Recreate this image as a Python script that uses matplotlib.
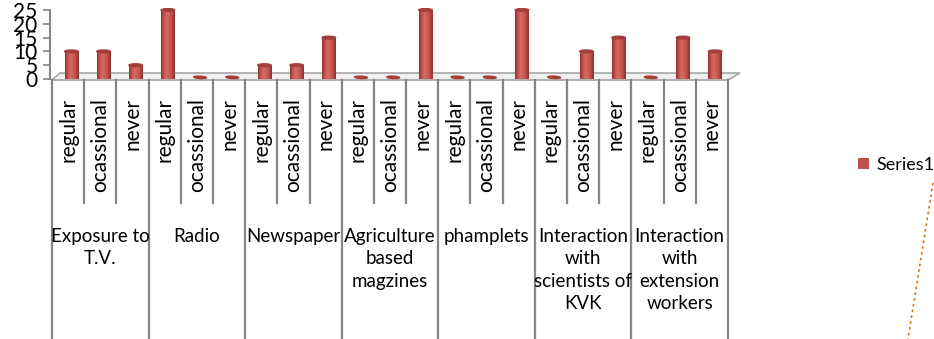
import numpy as np
import matplotlib.pyplot as plt
import matplotlib.transforms as mtransforms
from matplotlib.colors import LinearSegmentedColormap
from matplotlib.patches import Ellipse, Polygon, Patch
from matplotlib.lines import Line2D

plt.rcParams['font.family'] = ['Lato', 'DejaVu Sans']

groups = ['Exposure to\nT.V.', 'Radio', 'Newspaper', 'Agriculture\nbased\nmagzines',
          'phamplets', 'Interaction\nwith\nscientists of\nKVK',
          'Interaction\nwith\nextension\nworkers']
levels = ['regular', 'ocassional', 'never']
series1 = [10, 10, 5,
           25, 0, 0,
           5, 5, 15,
           0, 0, 25,
           0, 0, 25,
           0, 10, 15,
           0, 15, 10]

W, H = 934, 339
fig = plt.figure(figsize=(W / 100, H / 100), dpi=100)


def fx(x):
    return x / W


def fy(y):
    return 1 - y / H


n = len(series1)
slot = 676 / n
ax = fig.add_axes([fx(50), fy(79), fx(680), 69 / H])
xlim = (-2 / slot, n + 2 / slot)
ylim = (0, 25)

grey = '#868686'

# floor of the 3d chart, kept under the axes
floor = Polygon([(fx(52), fy(80)), (fx(60), fy(73)), (fx(740), fy(73)), (fx(728), fy(80))],
                closed=True, transform=fig.transFigure, facecolor='#efefef',
                edgecolor='#a6a6a6', lw=1.2, zorder=-1)
fig.patches.append(floor)

# cylinder-ish shading for the columns
cyl = LinearSegmentedColormap.from_list('cyl', ['#8f3331', '#c4524f', '#d46a66', '#cc5d59', '#b94a47', '#8a302e'])
grad = np.linspace(0, 1, 64).reshape(1, -1)

xpos = np.arange(n) + 0.6
bars = ax.bar(xpos, series1, width=0.42, color='#C0504D', zorder=3)
for b, v in zip(bars, series1):
    x0 = b.get_x()
    w = b.get_width()
    if v > 0:
        im = ax.imshow(grad, extent=[x0, x0 + w, 0, v], aspect='auto', cmap=cyl, zorder=3)
        im.set_clip_path(b)
        ax.add_patch(Ellipse((x0 + w / 2, v), w, 1.0, color='#a33e3b', zorder=4, clip_on=False))
    else:
        ax.add_patch(Ellipse((x0 + w / 2, 0.6), w * 0.9, 0.9, angle=8, color='#a33e3b',
                             zorder=4, clip_on=False))

ax.set_xlim(*xlim)
ax.set_ylim(*ylim)
ax.set_yticks([0, 5, 10, 15, 20, 25])
ax.set_xticks([])
for s in ['top', 'right', 'bottom']:
    ax.spines[s].set_visible(False)
ax.spines['left'].set_color(grey)
ax.spines['left'].set_linewidth(1.5)
ax.tick_params(axis='y', direction='out', length=5, width=1.2, color=grey,
               labelsize=15, pad=4)
ax.patch.set_alpha(0)

# category axis: separators and labels
blend = mtransforms.blended_transform_factory(ax.transData, fig.transFigure)
for i in range(n + 1):
    bottom = 339 if i % 3 == 0 else 203
    ax.plot([i, i], [fy(80), fy(bottom)], color=grey, lw=1.6, transform=blend, clip_on=False)

for i in range(n):
    ax.text(i + 0.5, fy(98), levels[i % 3], rotation=90, ha='center', va='top',
            fontsize=15, transform=blend)

for g, name in enumerate(groups):
    ax.text(3 * g + 1.5, fy(228), name, ha='center', va='top', fontsize=13.5,
            linespacing=1.38, transform=blend)

fig.legend(handles=[Patch(facecolor='#C0504D')], labels=['Series1'], loc='center left',
           bbox_to_anchor=(fx(858), fy(165)), frameon=False, fontsize=13,
           handlelength=0.6, handleheight=0.6, handletextpad=0.4,
           borderpad=0, borderaxespad=0)

fig.lines.append(Line2D([fx(933), fx(908)], [fy(183), fy(339)], transform=fig.transFigure,
                        color='#E46C0A', lw=1.2, ls=(0, (1.5, 2))))

fig.savefig('out.png', dpi=100)
